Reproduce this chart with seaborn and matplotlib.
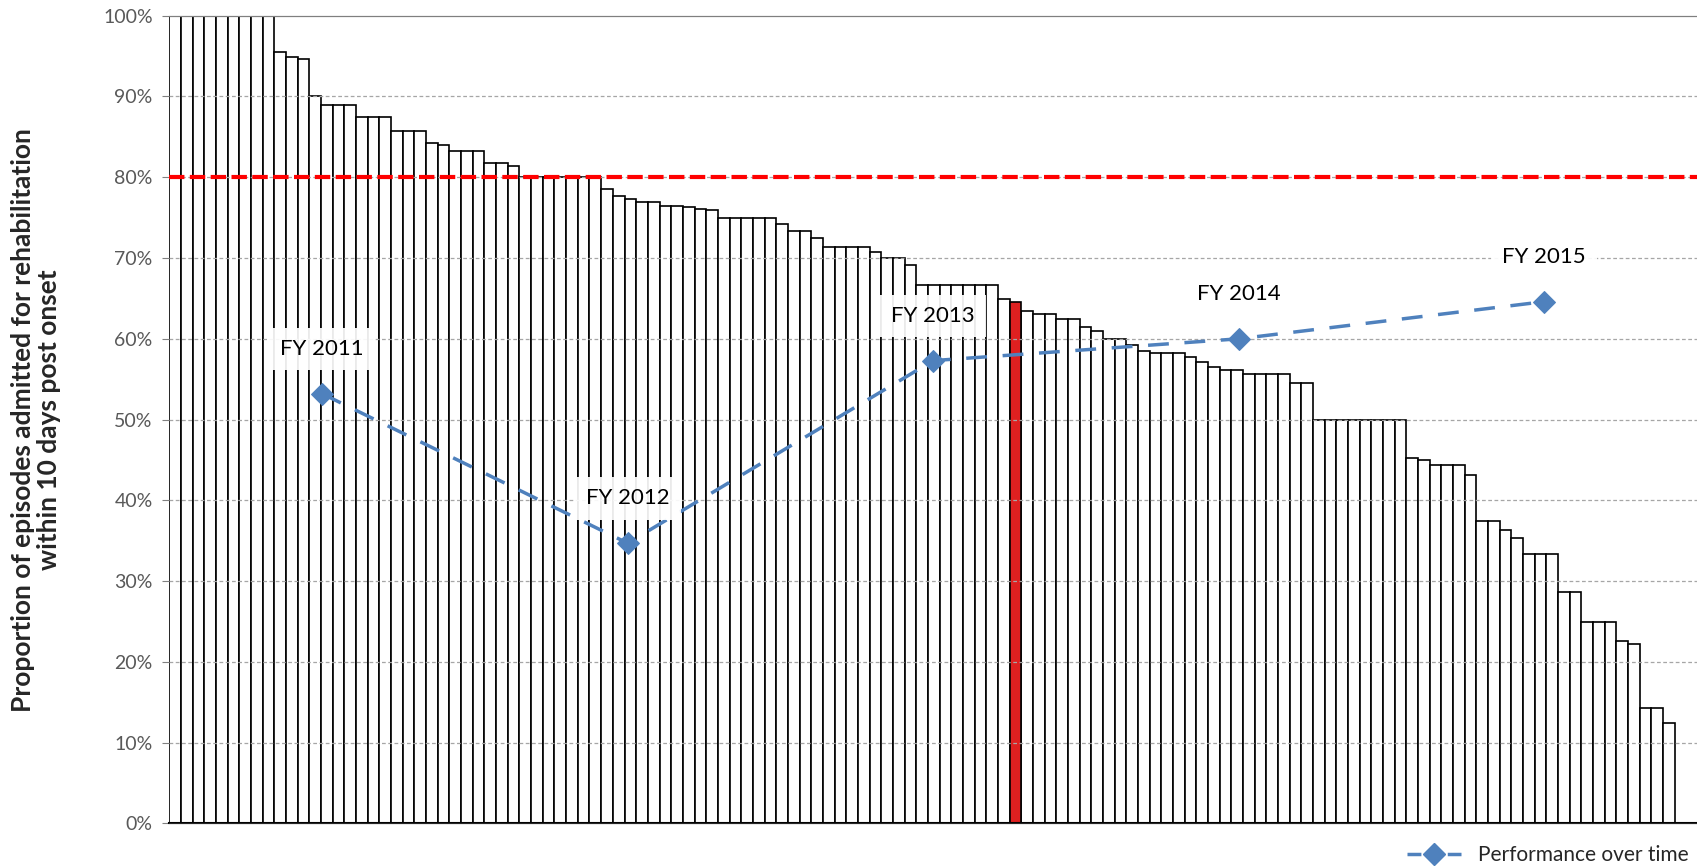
import pandas as pd
import numpy as np
import matplotlib.pyplot as plt
import seaborn as sns
from matplotlib.lines import Line2D

# hospital results, sorted high to low (percent)
hospital_values = [
    100, 100, 100, 100, 100, 100, 100, 100, 100,
    95.5, 94.9, 94.6, 90.0,
    88.9, 88.9, 88.9, 87.5, 87.5, 87.5, 85.7, 85.7, 85.7,
    84.2, 84.0, 83.3, 83.3, 83.3, 81.8, 81.8, 81.4,
    80.0, 80.0, 80.0, 80.0, 80.0, 80.0, 80.0,
    78.5, 77.7, 77.3, 76.9, 76.9, 76.4, 76.4, 76.3, 76.1, 75.9,
    75.0, 75.0, 75.0, 75.0, 75.0, 74.2, 73.3, 73.3, 72.5,
    71.4, 71.4, 71.4, 71.4, 70.7, 70.0, 70.0, 69.1,
    66.7, 66.7, 66.7, 66.7, 66.7, 66.7, 66.7,
    64.9, 64.5, 63.5, 63.1, 63.1, 62.5, 62.5, 61.5, 61.0, 60.0, 60.0,
    59.2, 58.5, 58.3, 58.3, 58.3, 57.8, 57.1, 56.5, 56.2, 56.2,
    55.6, 55.6, 55.6, 55.6, 54.5, 54.5,
    50.0, 50.0, 50.0, 50.0, 50.0, 50.0, 50.0, 50.0,
    45.3, 45.0, 44.4, 44.4, 44.4, 43.2, 37.5, 37.5, 36.3, 35.3,
    33.3, 33.3, 33.3, 28.6, 28.6, 25.0, 25.0, 25.0, 22.6, 22.2,
    14.3, 14.3, 12.5,
]
highlight_rank = 72  # the red bar (0-based)
target = 80

years = ['FY 2011', 'FY 2012', 'FY 2013', 'FY 2014', 'FY 2015']
year_values = [53.2, 34.7, 57.3, 60.0, 64.6]

df = pd.DataFrame({'rank': range(len(hospital_values)), 'value': hospital_values})
df['highlight'] = df['rank'] == highlight_rank

sns.set_style('white')
plt.rcParams['font.family'] = ['Lato', 'DejaVu Sans']

fig = plt.figure(figsize=(16.97, 8.67), dpi=100)
ax = fig.add_axes([0.0998, 0.0502, 0.9002, 0.9317])

sns.barplot(data=df, x='rank', y='value', hue='highlight',
            palette={False: 'white', True: '#ff0000'}, dodge=False,
            width=1.0, edgecolor='black', linewidth=1.2, legend=False, ax=ax)

ax.set_xlim(-0.5, 130.4)
ax.set_ylim(0, 100)
ax.set_yticks(range(0, 101, 10))
ax.set_yticklabels([f'{t}%' for t in range(0, 101, 10)], fontsize=14, color='#595959')
ax.set_xticks([])
ax.set_xlabel('')
ax.tick_params(axis='y', length=5, color='#808080', pad=7, left=True)

# dashed gridlines drawn over the bars
for t in range(10, 100, 10):
    ax.axhline(t, color='#a6a6a6', lw=0.9, ls=(0, (3, 2)), zorder=3)

ax.axhline(target, color='#ff0000', lw=3, ls=(0, (3.7, 1.3)), zorder=4)

for s in ['left', 'right']:
    ax.spines[s].set_visible(False)
ax.spines['top'].set_color('#7f7f7f')
ax.spines['bottom'].set_color('black')
ax.spines['bottom'].set_linewidth(1.5)

ax.set_ylabel('Proportion of episodes admitted for rehabilitation\nwithin 10 days post onset',
              fontsize=19, fontweight='bold', color='#262626', labelpad=30,
              linespacing=1.12)

# performance line on its own category axis (5 slots across the plot)
ax2 = ax.twiny()
ax2.set_xlim(-0.5, 4.5)
ax2.set_xticks([])
ax2.spines['right'].set_visible(False)
ax2.spines['left'].set_visible(False)
ax2.spines['top'].set_color('#7f7f7f')
line_style = dict(color='#4f81bd', lw=2.5, marker='D',
                  markersize=11, markeredgecolor='#4f81bd')
sns.lineplot(x=list(range(len(years))), y=year_values, ax=ax2, zorder=6,
             legend=False, linestyle=(0, (6, 4.5)), **line_style)

for i, (yr, v) in enumerate(zip(years, year_values)):
    ax2.annotate(yr, (i, v), xytext=(0, 25), textcoords='offset points',
                 ha='center', va='bottom', fontsize=16, color='black', zorder=7,
                 bbox=dict(boxstyle='square,pad=0.5', fc='white', ec='none', alpha=0.92))

# legend handle: dash - diamond - dash
handle = Line2D([], [], linestyle=(0, (4, 7.6)), **line_style)
ax2.legend([handle], ['Performance over time'], loc='center right',
           bbox_to_anchor=(1.0, 0.014), bbox_transform=fig.transFigure,
           frameon=False, fontsize=15, handlelength=2.6, borderaxespad=0)

fig.savefig('out.png', dpi=100)
